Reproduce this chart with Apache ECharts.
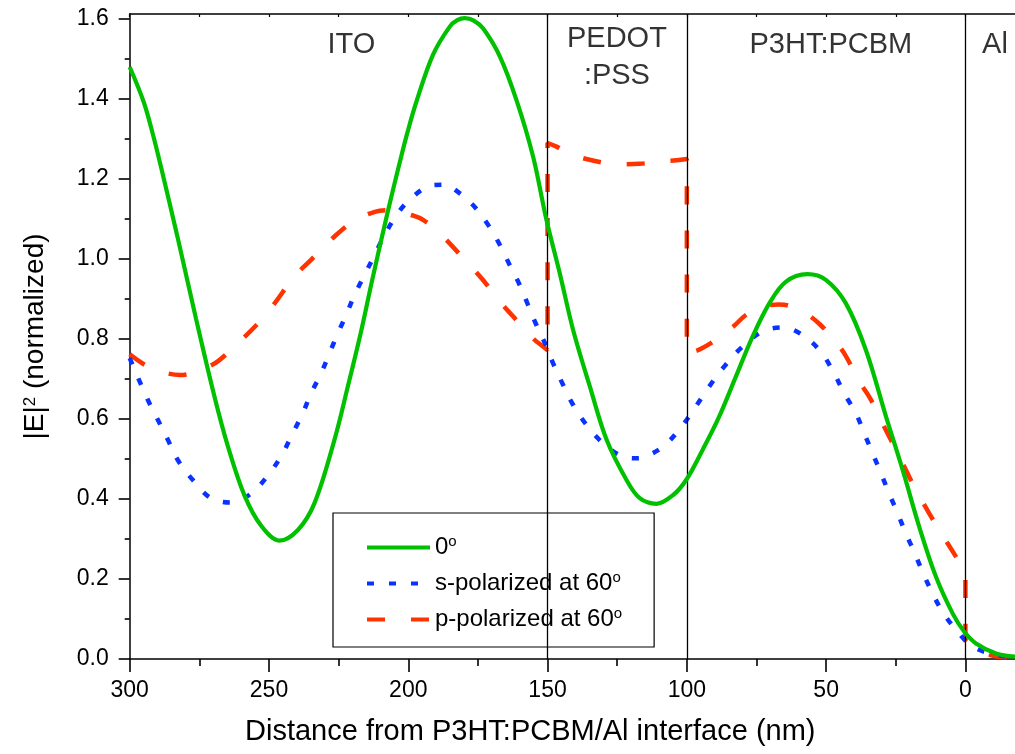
<!DOCTYPE html>
<html><head><meta charset="utf-8">
<script src="https://cdn.jsdelivr.net/npm/echarts@6/dist/echarts.min.js"></script>
<style>html,body{margin:0;padding:0;background:#fff}#c{width:1015px;height:754px}</style>
</head><body><div id="c"></div>
<script>
const FONT = "'Liberation Sans', Arial, sans-serif";
const seriesNames = ['0°', 's-polarized at 60°', 'p-polarized at 60°'];
const seriesColors = ['#00c000', '#0a33ff', '#ff3300'];

// 0 degrees
const green = [[300,1.48],[295,1.393],[291.5,1.307],[288.8,1.231],[282.8,1.054],[276.2,0.851],[269.6,0.657],[264.8,0.533],[258.8,0.409],[252.8,0.333],[246.3,0.296],[239.7,0.322],[233.7,0.389],[226.5,0.548],[221.7,0.681],[216.9,0.82],[212.9,0.949],[207.3,1.12],[203,1.243],[200.2,1.319],[197,1.395],[191.1,1.511],[185.1,1.581],[182.4,1.597],[179.7,1.602],[176.5,1.596],[173.1,1.576],[167.1,1.506],[161.1,1.396],[155.2,1.256],[150.4,1.098],[145.6,0.964],[140.8,0.822],[134.8,0.681],[128.8,0.548],[121.7,0.448],[116.9,0.402],[110.9,0.388],[104.9,0.41],[100,0.45],[94.4,0.522],[88.4,0.606],[82.4,0.706],[76.4,0.806],[70.4,0.889],[64.5,0.943],[56.7,0.962],[50.1,0.948],[42.9,0.889],[35.7,0.772],[28.5,0.606],[22.5,0.472],[16.6,0.331],[10.6,0.206],[4.6,0.114],[0.4,0.068],[-3.8,0.039],[-11,0.014],[-17.8,0.006]];

// s-polarized at 60 degrees
const blue = [[300,0.752],[293.5,0.648],[289.9,0.598],[286.3,0.548],[282.8,0.498],[277.4,0.448],[270.8,0.402],[263.6,0.391],[256.4,0.414],[249.8,0.464],[245.1,0.514],[241.5,0.564],[237.9,0.614],[234.9,0.664],[231.3,0.714],[228.3,0.764],[225.3,0.814],[222.3,0.86],[219.3,0.91],[215.7,0.96],[212.1,1.01],[208.5,1.06],[203.8,1.114],[198.3,1.156],[191.1,1.185],[186,1.186],[183.9,1.177],[177.3,1.139],[171.3,1.085],[167.1,1.035],[163.6,0.985],[160,0.935],[157,0.885],[154,0.835],[150,0.775],[148,0.739],[144.4,0.685],[140.8,0.635],[136,0.585],[130,0.539],[122.9,0.506],[118,0.502],[115.7,0.504],[108.5,0.531],[101.9,0.581],[96.8,0.631],[92,0.681],[86.6,0.731],[80.6,0.777],[72.8,0.819],[65.6,0.829],[58.5,0.81],[51.9,0.768],[47.1,0.714],[43.5,0.664],[39.3,0.614],[36.3,0.564],[33.3,0.514],[30.3,0.464],[27.4,0.414],[24.3,0.364],[21.4,0.314],[18.4,0.268],[15.4,0.218],[11.8,0.164],[8.2,0.118],[3.4,0.073],[-2.6,0.031],[-11,0.01],[-17.8,0.004]];

// p-polarized at 60 degrees
const red = [[300,0.762],[293.5,0.731],[287,0.715],[282,0.71],[278,0.714],[272,0.73],[268.4,0.744],[262.4,0.781],[253.4,0.843],[248,0.889],[240.9,0.956],[234.9,0.998],[225.9,1.06],[219.3,1.096],[212,1.118],[207,1.122],[204.4,1.12],[199,1.11],[194.7,1.098],[188.1,1.06],[179.7,0.998],[173.7,0.952],[166.5,0.889],[160.6,0.843],[155,0.8],[151.6,0.781],[150,0.772],[150,1.29],[146.8,1.281],[140.8,1.26],[133,1.245],[125.2,1.237],[117,1.238],[109.7,1.244],[103.7,1.247],[100,1.25],[100,0.765],[96,0.772],[92,0.787],[88.2,0.806],[83,0.833],[78.8,0.86],[72.8,0.881],[67,0.886],[63.3,0.883],[57.3,0.864],[52,0.835],[47.7,0.801],[43.5,0.764],[38.1,0.694],[33.9,0.648],[29.2,0.581],[26.1,0.539],[21.4,0.473],[18.4,0.431],[13,0.364],[9.4,0.323],[3.4,0.256],[1,0.231],[0,0.225],[0,0.05],[-2.4,0.034],[-6,0.02],[-10,0.008],[-17.8,0.003]];

const xMajorTicks = [300,250,200,150,100,50,0];
const xMinorTicks = [275,225,175,125,75,25];
const yMajorTicks = [0,0.2,0.4,0.6,0.8,1.0,1.2,1.4,1.6];
const yMinorTicks = [0.1,0.3,0.5,0.7,0.9,1.1,1.3,1.5];
const interfaces = [150,100,0];
const layerNames = ['ITO','PEDOT\n:PSS','P3HT:PCBM','Al'];
const layerX = [220.4,125.1,48.3,-10.6];
const layerY = [1.535,1.503,1.535,1.535];
const xTitle = 'Distance from P3HT:PCBM/Al interface (nm)';

const X_MIN = -17.8, X_MAX = 300, Y_MIN = 0, Y_MAX = 1.6125;
const black = '#000';

function xAx(extra){ return Object.assign({type:'value', inverse:true, min:X_MIN, max:X_MAX, splitLine:{show:false}, axisLabel:{show:false}, axisLine:{show:false, onZero:false}}, extra); }
function yAx(extra){ return Object.assign({type:'value', min:Y_MIN, max:Y_MAX, splitLine:{show:false}, axisLabel:{show:false}, axisLine:{show:false, onZero:false}}, extra); }

const chart = echarts.init(document.getElementById('c'), null, {renderer:'canvas'});
chart.setOption({
  animation:false,
  backgroundColor:'#fff',
  grid:{left:129.7, right:0, top:14, bottom:95, containLabel:false, outerBoundsMode:'none'},
  xAxis:[
    xAx({position:'bottom', axisLine:{show:true, onZero:false, lineStyle:{color:black, width:1.5}},
      axisTick:{show:true, customValues:xMajorTicks, length:13, lineStyle:{color:black, width:1.6}},
      axisLabel:{show:true, customValues:xMajorTicks, margin:20, fontSize:23, color:black, fontFamily:FONT}}),
    xAx({position:'bottom', axisTick:{show:true, customValues:xMinorTicks, length:7, lineStyle:{color:black, width:1.6}}}),
    xAx({position:'top', axisLine:{show:true, onZero:false, lineStyle:{color:black, width:1.5}},
      axisTick:{show:true, inside:true, customValues:xMajorTicks.concat(xMinorTicks), length:3, lineStyle:{color:black, width:1.2}}})
  ],
  yAxis:[
    yAx({position:'left', axisLine:{show:true, onZero:false, lineStyle:{color:black, width:1.5}},
      axisTick:{show:true, customValues:yMajorTicks, length:11, lineStyle:{color:black, width:1.6}},
      axisLabel:{show:true, customValues:yMajorTicks, margin:21, fontSize:23, color:black, fontFamily:FONT, formatter:v=>v.toFixed(1)},
      name:'|E|{s|2} (normalized)', nameLocation:'middle', nameGap:80,
      nameTextStyle:{fontSize:28, color:black, fontFamily:FONT, rich:{s:{fontSize:17, fontFamily:FONT, color:black, verticalAlign:'top'}}}}),
    yAx({position:'left', offset:0, axisTick:{show:true, customValues:yMinorTicks, length:5, lineStyle:{color:black, width:1.6}}})
  ],
  legend:{
    data:seriesNames, orient:'vertical', left:333, top:513, padding:[21,32,14,32], itemGap:9,
    itemWidth:63, itemHeight:14, borderColor:black, borderWidth:1.2, backgroundColor:'#fff', selectedMode:false,
    lineStyle:{width:4},
    itemStyle:{color:'rgba(0,0,0,0)', borderWidth:0, opacity:0},
    formatter:n=>n.replace('°','{s|o}'),
    textStyle:{fontSize:24, color:black, fontFamily:FONT, lineHeight:27,
      rich:{s:{fontSize:15, color:black, fontFamily:FONT, verticalAlign:'top', lineHeight:27}}}
  },
  graphic:[{type:'text', left:245, top:717, style:{text:xTitle, fill:black, font:'29px '+FONT}}],
  series:[
    {name:seriesNames[2], type:'line', data:red, symbol:'none', smooth:0.35, z:3,
      lineStyle:{color:seriesColors[2], width:4.5, type:[18,26]}, itemStyle:{color:seriesColors[2]}},
    {name:seriesNames[1], type:'line', data:blue, symbol:'none', smooth:0.35, z:4,
      lineStyle:{color:seriesColors[1], width:4.5, type:[7,15]}, itemStyle:{color:seriesColors[1]}},
    {name:seriesNames[0], type:'line', data:green, symbol:'none', smooth:0.35, z:5,
      lineStyle:{color:seriesColors[0], width:4.2}, itemStyle:{color:seriesColors[0]},
      markLine:{silent:true, symbol:['none','none'], label:{show:false}, lineStyle:{color:black, width:1.3, type:'solid'},
        data:interfaces.map(v=>({xAxis:v}))}},
    {type:'scatter', silent:true, symbolSize:0, z:10,
      data:layerNames.map((n,i)=>[layerX[i], layerY[i], n]),
      label:{show:true, position:'inside', formatter:p=>p.data[2], fontSize:29, lineHeight:37, color:black, fontFamily:FONT}}
  ]
});
</script></body></html>
